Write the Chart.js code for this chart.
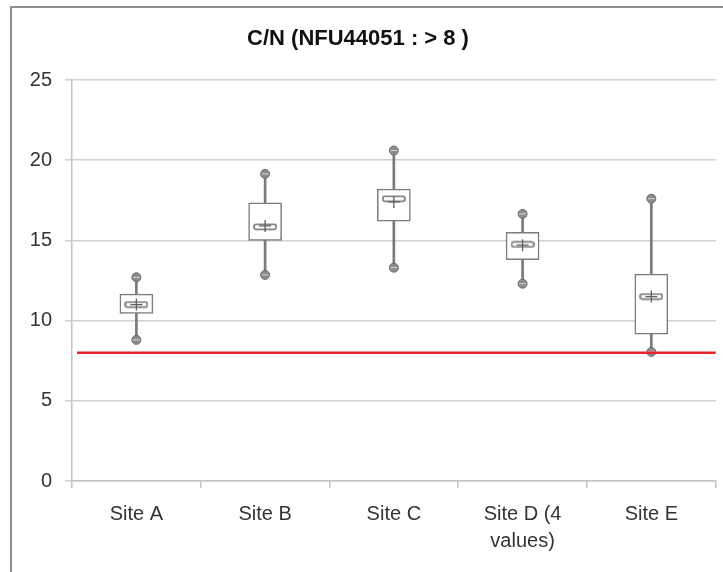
<!DOCTYPE html>
<html>
<head>
<meta charset="utf-8">
<script src="https://cdn.jsdelivr.net/npm/chart.js@4.4.1/dist/chart.umd.min.js"></script>
<style>
  html, body { margin: 0; padding: 0; background: #fff; overflow: hidden; }
  #cadre { position: absolute; left: 10px; top: 6px; width: 800px; height: 600px; border: 2px solid #8e8e8e; box-sizing: border-box; }
  #zone { position: absolute; left: 0; top: 0; width: 723px; height: 572px; }
</style>
</head>
<body>
<div id="cadre"></div>
<div id="zone"><canvas id="graphe" width="723" height="572"></canvas></div>
<script>
// valeurs
const sites = ['Site A', 'Site B', 'Site C', ['Site D (4', 'values)'], 'Site E'];
const minimums = [8.8, 12.85, 13.3, 12.3, 8.05];
const quartile1 = [10.45, 15.0, 16.2, 13.8, 9.15];
const medianes = [11.0, 15.85, 17.6, 14.75, 11.5];
const moyennes = [11.0, 15.9, 17.4, 14.7, 11.5];
const quartile3 = [11.65, 17.35, 18.2, 15.5, 12.9];
const maximums = [12.7, 19.15, 20.6, 16.65, 17.6];
const seuil = 8;
const ticksY = [0, 5, 10, 15, 20, 25];

const police = "'Liberation Sans', Arial, sans-serif";

// petit rectangle pour la mediane
const marqueMediane = document.createElement('canvas');
marqueMediane.width = 24;
marqueMediane.height = 8;
(function () {
    const c = marqueMediane.getContext('2d');
    c.strokeStyle = '#6e6e6e';
    c.lineWidth = 1.5;
    c.beginPath();
    c.roundRect(1, 1.5, 22, 5, 2);
    c.stroke();
})();

// ligne rouge du seuil NFU
const ligneSeuil = {
    id: 'ligneSeuil',
    afterDatasetsDraw(chart) {
        const { ctx, chartArea, scales } = chart;
        const y = scales.y.getPixelForValue(seuil);
        ctx.save();
        ctx.strokeStyle = '#e5242c';
        ctx.lineWidth = 2.5;
        ctx.beginPath();
        ctx.moveTo(chartArea.left + 5, y);
        ctx.lineTo(chartArea.right, y);
        ctx.stroke();
        ctx.restore();
    }
};

const ctx = document.getElementById('graphe').getContext('2d');
const graphe = new Chart(ctx, {
    type: 'bar',
    data: {
        labels: sites,
        datasets: [
            { type: 'line', label: 'max', data: maximums, showLine: false, pointStyle: 'circle', pointRadius: 4.5,
              pointBackgroundColor: '#8c8c8c', pointBorderColor: '#6a6a6a', pointBorderWidth: 1, order: 1 },
            { type: 'line', label: 'min', data: minimums, showLine: false, pointStyle: 'circle', pointRadius: 4.5,
              pointBackgroundColor: '#8c8c8c', pointBorderColor: '#6a6a6a', pointBorderWidth: 1, order: 1 },
            { type: 'line', label: 'trait', data: maximums.concat([]), showLine: false, pointStyle: 'line', pointRadius: 3.5,
              pointBorderColor: '#d6d6d6', pointBorderWidth: 1, order: 0 },
            { type: 'line', label: 'trait2', data: minimums.concat([]), showLine: false, pointStyle: 'line', pointRadius: 3.5,
              pointBorderColor: '#d6d6d6', pointBorderWidth: 1, order: 0 },
            { type: 'line', label: 'moyenne', data: moyennes, showLine: false, pointStyle: 'cross', pointRadius: 6,
              pointBorderColor: '#606060', pointBorderWidth: 1.3, order: 2 },
            { type: 'line', label: 'mediane', data: medianes, showLine: false, pointStyle: marqueMediane, order: 3 },
            { label: 'boite', data: sites.map((s, i) => [quartile1[i], quartile3[i]]), backgroundColor: '#ffffff',
              borderColor: '#7c7c7c', borderWidth: 1.5, borderSkipped: false, barThickness: 33, grouped: false, order: 4 },
            { label: 'moustache', data: sites.map((s, i) => [minimums[i], maximums[i]]), backgroundColor: '#7a7a7a',
              borderWidth: 0, barThickness: 2, grouped: false, order: 5 }
        ]
    },
    options: {
        responsive: false,
        animation: false,
        layout: { padding: { left: 0, right: 7, top: 0, bottom: 0 } },
        plugins: {
            legend: { display: false },
            tooltip: { enabled: false },
            title: {
                display: true,
                text: 'C/N (NFU44051 : > 8 )',
                color: '#111',
                font: { family: police, size: 22, weight: 'bold', lineHeight: 1.2 },
                padding: { top: 26, bottom: 27.6 }
            }
        },
        scales: {
            x: {
                offset: true,
                grid: { offset: true, drawOnChartArea: false, drawTicks: true, tickLength: 7, color: '#c4c4c4', lineWidth: 1.5 },
                border: { color: '#c4c4c4', width: 1.5 },
                ticks: { color: '#333', font: { family: police, size: 20, lineHeight: 1.35 }, padding: 13, maxRotation: 0, autoSkip: false },
                afterFit(scale) { scale.height = 91; }
            },
            y: {
                min: 0,
                max: 25,
                afterBuildTicks(scale) { scale.ticks = ticksY.map(v => ({ value: v })); },
                grid: { color: '#d0d0d0', lineWidth: 1.5, tickLength: 7 },
                border: { color: '#c4c4c4', width: 1.5 },
                ticks: { color: '#333', font: { family: police, size: 20 }, padding: 13 },
                afterFit(scale) { scale.width = 72; }
            }
        }
    },
    plugins: [ligneSeuil]
});
</script>
</body>
</html>
